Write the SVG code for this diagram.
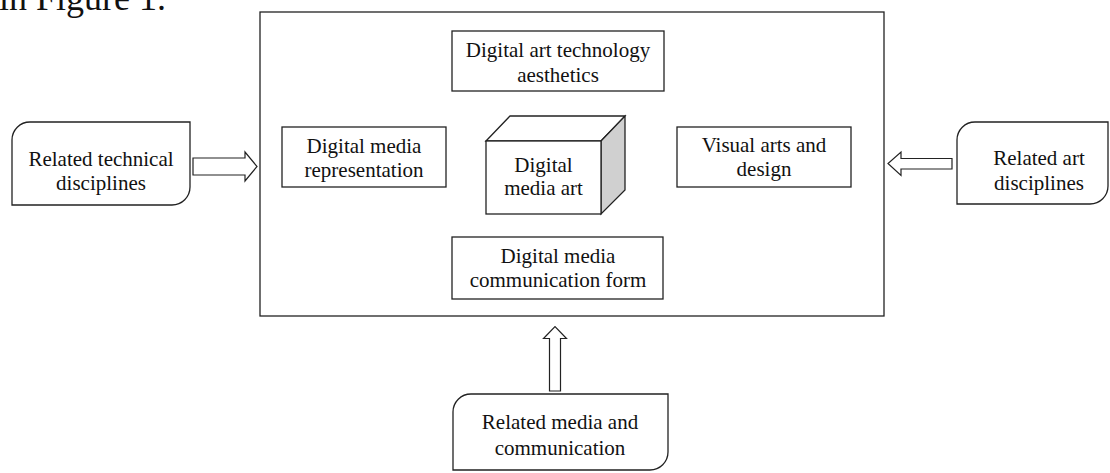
<svg xmlns="http://www.w3.org/2000/svg" width="1110" height="473" viewBox="0 0 1110 473">
<style>
.box{fill:#fff;stroke:#222;stroke-width:1.3}
.arr{fill:#fff;stroke:#222;stroke-width:1.2;stroke-linejoin:miter}
.t{font-family:"Liberation Serif","Times New Roman",serif;font-size:21px;fill:#111;text-anchor:middle}
.cap{font-family:"Liberation Serif","Times New Roman",serif;font-size:36px;fill:#111}
</style>
<rect width="1110" height="473" fill="#fff"/>
<text class="cap" x="-1" y="10">in Figure 1.</text>
<g id="main"><rect class="box" x="260" y="12" width="624" height="304"/></g>
<g id="aesthetics"><rect class="box" x="452" y="31" width="212" height="60"/>
<text class="t" x="558" y="57">Digital art technology</text><text class="t" x="558" y="82">aesthetics</text></g>
<g id="representation"><rect class="box" x="282" y="127" width="164" height="60"/>
<text class="t" x="364" y="153">Digital media</text><text class="t" x="364" y="177">representation</text></g>
<g id="visual"><rect class="box" x="677" y="127" width="174" height="60"/>
<text class="t" x="764" y="152">Visual arts and</text><text class="t" x="764" y="176">design</text></g>
<g id="cube">
<path class="box" d="M486,141 L510,116 L625,116 L601,141 Z"/>
<path d="M601,141 L625,116 L625,190 L601,214 Z" fill="#d0d0d0" stroke="#222" stroke-width="1.3"/>
<rect class="box" x="486" y="141" width="115" height="73"/>
<text class="t" x="543.5" y="172">Digital</text><text class="t" x="543.5" y="195">media art</text></g>
<g id="communication"><rect class="box" x="452" y="237" width="211" height="62"/>
<text class="t" x="558" y="263">Digital media</text><text class="t" x="558" y="287">communication form</text></g>
<g id="tech"><path class="box" d="M30,122 H190 V187 A18,18 0 0 1 172,205 H12 V140 A18,18 0 0 1 30,122 Z"/>
<text class="t" x="101" y="166">Related technical</text><text class="t" x="101" y="190">disciplines</text></g>
<g id="art"><path class="box" d="M975,122 H1108 V186 A18,18 0 0 1 1090,204 H957 V140 A18,18 0 0 1 975,122 Z"/>
<text class="t" x="1039" y="165">Related art</text><text class="t" x="1039" y="190">disciplines</text></g>
<g id="media"><path class="box" d="M471,394 H668 V452 A18,18 0 0 1 650,470 H453 V412 A18,18 0 0 1 471,394 Z"/>
<text class="t" x="560" y="429">Related media and</text><text class="t" x="560" y="455">communication</text></g>
<g id="connectors">
<path class="arr" d="M193,158 H245 V152 L257,166.5 L245,181 V175 H193 Z"/>
<path class="arr" d="M952,158.5 H901 V152 L888,163.5 L901,175.5 V169 H952 Z"/>
<path class="arr" d="M549.5,391 V338.5 H543.5 L555,326.5 L566.5,338.5 H560.5 V391 Z"/>
</g>
</svg>
